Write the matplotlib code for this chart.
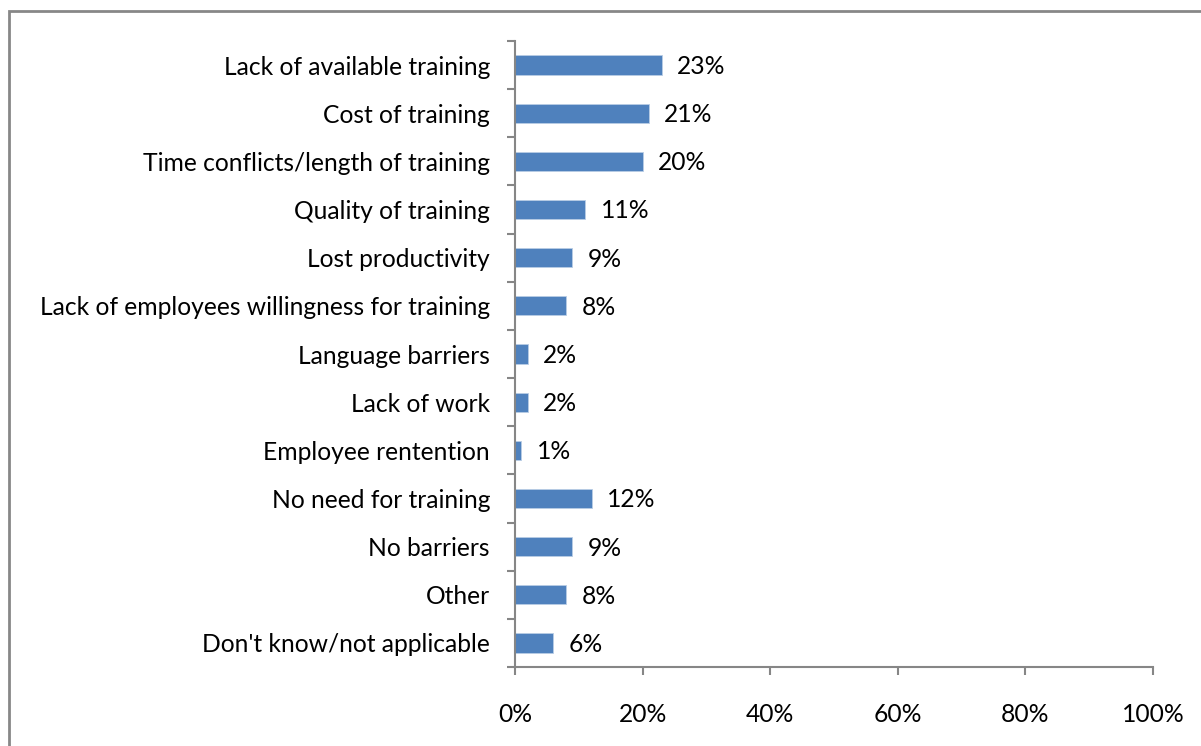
import matplotlib.pyplot as plt
from matplotlib.patches import Rectangle
from matplotlib.ticker import FuncFormatter

categories = [
    "Lack of available training",
    "Cost of training",
    "Time conflicts/length of training",
    "Quality of training",
    "Lost productivity",
    "Lack of employees willingness for training",
    "Language barriers",
    "Lack of work",
    "Employee rentention",
    "No need for training",
    "No barriers",
    "Other",
    "Don't know/not applicable",
]
values = [23, 21, 20, 11, 9, 8, 2, 2, 1, 12, 9, 8, 6]
xticks = [0, 20, 40, 60, 80, 100]

plt.rcParams['font.family'] = ['Lato', 'DejaVu Sans']
fs = 17.7

fig = plt.figure(figsize=(12.01, 7.46), dpi=100)
ax = fig.add_axes([515 / 1201, 1 - 667 / 746, (1153 - 515) / 1201, (667 - 41) / 746])

# bordure de la figure (coupee a droite et en bas)
fig.patches.append(Rectangle((9 / 1201, -0.1), 1.2, 1 - 11 / 746 + 0.1,
                             transform=fig.transFigure, fill=False,
                             edgecolor='#878787', linewidth=2))

n = len(categories)
pos = list(range(n))
ax.barh(pos, values, height=0.4, color='#4F81BD', edgecolor='#B9CDE5', linewidth=0.6)
for p, v in zip(pos, values):
    ax.annotate(f"{v}%", (v, p), xytext=(11, -1), textcoords='offset points',
                va='center', ha='left', fontsize=fs, color='black')

ax.set_ylim(n - 0.5, -0.5)
ax.set_xlim(0, 100)
ax.set_yticks([i - 0.5 for i in range(n + 1)])
ax.set_yticklabels([])
ax.set_yticks(pos, minor=True)
ax.set_yticklabels(categories, minor=True, fontsize=fs)
ax.tick_params(axis='y', which='minor', length=0, pad=18)
ax.tick_params(axis='y', which='major', length=6, color='#868686', width=1.5)
ax.set_xticks(xticks)
ax.xaxis.set_major_formatter(FuncFormatter(lambda x, _: f"{x:.0f}%"))
ax.tick_params(axis='x', length=6, color='#868686', width=1.5, labelsize=fs, pad=20)

for s in ['top', 'right']:
    ax.spines[s].set_visible(False)
for s in ['left', 'bottom']:
    ax.spines[s].set_color('#868686')
    ax.spines[s].set_linewidth(1.5)

fig.savefig("out.png", dpi=100)
plt.close()
